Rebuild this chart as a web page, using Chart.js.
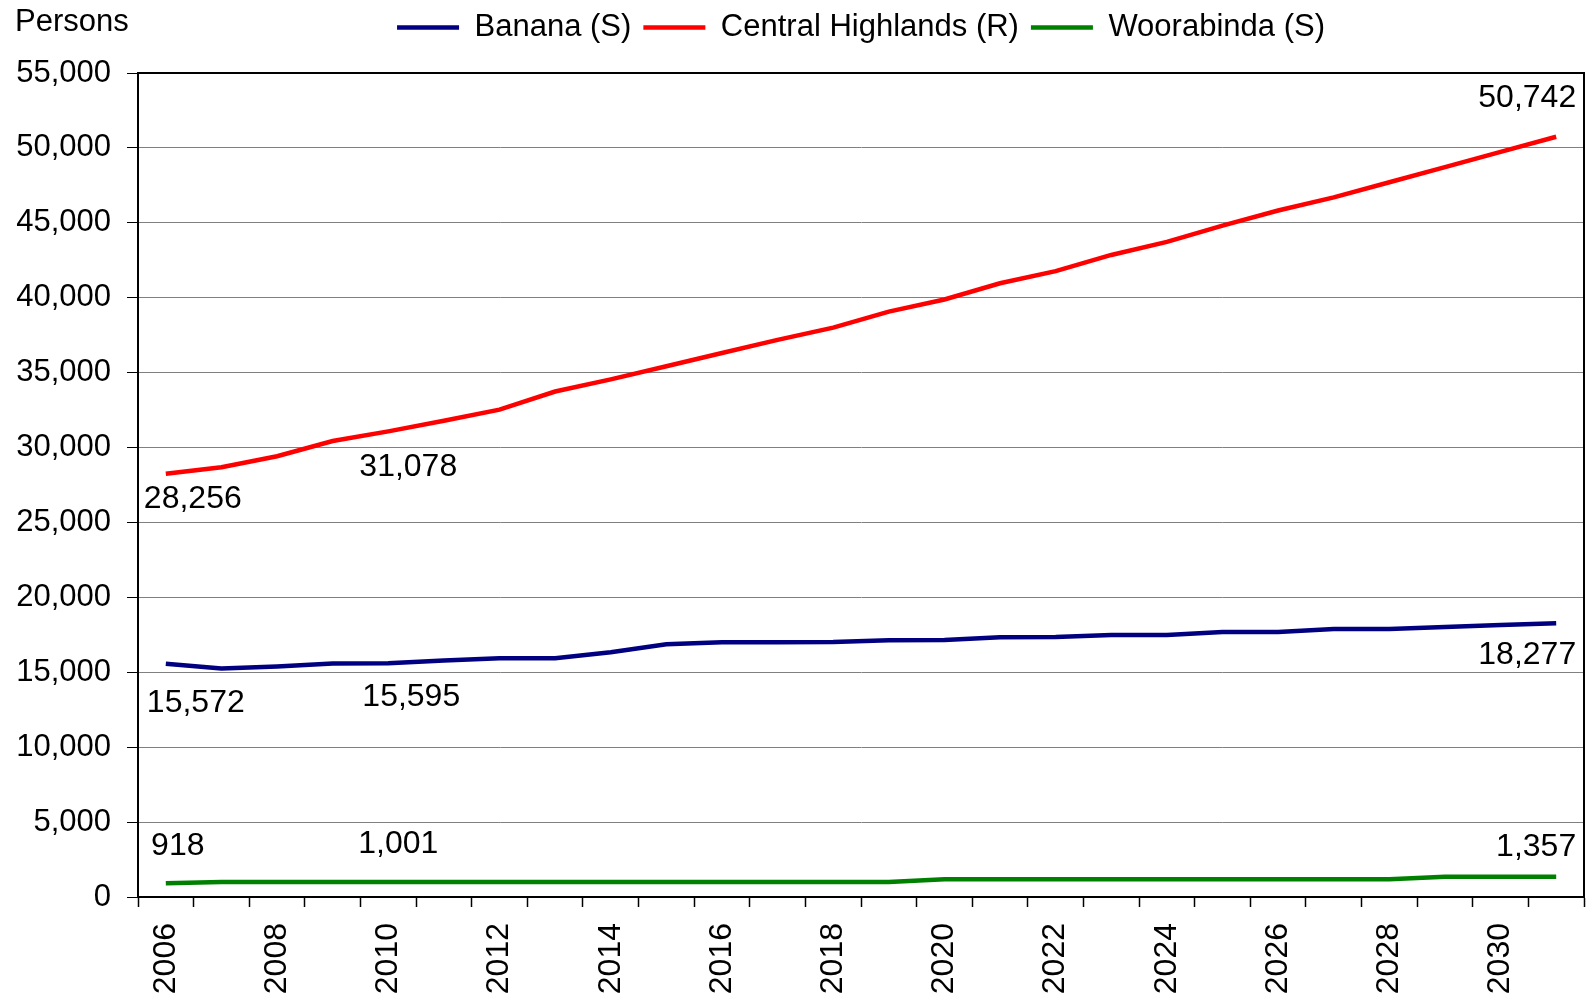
<!DOCTYPE html>
<html>
<head>
<meta charset="utf-8">
<script src="https://cdn.jsdelivr.net/npm/chart.js@4"></script>
<style>
  html, body { margin: 0; padding: 0; background: #fff; overflow: hidden; }
  #wrap { width: 1586px; height: 998px; }
</style>
</head>
<body>
<div id="wrap"><canvas id="popChart" width="1586" height="998"></canvas></div>
<script>
const years = ['2006', '2007', '2008', '2009', '2010', '2011', '2012', '2013', '2014', '2015', '2016', '2017', '2018',
               '2019', '2020', '2021', '2022', '2023', '2024', '2025', '2026', '2027', '2028', '2029', '2030', '2031'];

const banana = [15572, 15250, 15390, 15590, 15595, 15790, 15930, 15940, 16330, 16870, 17010, 17010, 17020,
                17140, 17150, 17345, 17350, 17480, 17490, 17680, 17690, 17885, 17890, 18020, 18155, 18277];

const centralHighlands = [28256, 28680, 29420, 30435, 31078, 31785, 32530, 33740, 34550, 35430, 36310, 37185, 38000,
                          39075, 39885, 40965, 41775, 42855, 43730, 44810, 45820, 46700, 47710, 48720, 49735, 50742];

const woorabinda = [918, 1001, 1001, 1001, 1001, 1001, 1001, 1001, 1001, 1001, 1001, 1001, 1001,
                    1001, 1180, 1180, 1180, 1180, 1180, 1180, 1180, 1180, 1180, 1357, 1357, 1357];

const seriesNames = ['Banana (S)', 'Central Highlands (R)', 'Woorabinda (S)'];
const seriesColors = ['#000080', '#ff0000', '#008000'];

// which points get a value label: [dataset, index]
const labelledPoints = [[0, 0], [0, 4], [0, 25], [1, 0], [1, 4], [1, 25], [2, 0], [2, 4], [2, 25]];

const FONT = '"Liberation Sans", Arial, sans-serif';
const fmt = v => v.toLocaleString('en-US');

// offsets for the value labels (style only)
const labelStyle = {
  '0-0': { dx: 30, dy: 39, align: 'center' },
  '0-4': { dx: 23, dy: 34, align: 'center' },
  '0-25': { dx: 20, dy: 32, align: 'right' },
  '1-0': { dx: 27, dy: 25, align: 'center' },
  '1-4': { dx: 20, dy: 36, align: 'center' },
  '1-25': { dx: 20, dy: -39, align: 'right' },
  '2-0': { dx: 12, dy: -37, align: 'center' },
  '2-4': { dx: 10, dy: -38, align: 'center' },
  '2-25': { dx: 20, dy: -29, align: 'right' }
};

const extras = {
  id: 'extras',
  afterDraw(chart) {
    const c = chart.ctx;
    const a = chart.chartArea;
    c.save();
    // frame round the plot
    c.strokeStyle = '#000';
    c.lineWidth = 2;
    c.strokeRect(a.left, a.top, a.right - a.left, a.bottom - a.top);
    // axis caption
    c.fillStyle = '#000';
    c.font = '31px ' + FONT;
    c.textAlign = 'left';
    c.textBaseline = 'middle';
    c.fillText('Persons', 15, 22);
    // value labels
    c.font = '32px ' + FONT;
    labelledPoints.forEach(([ds, i]) => {
      const pt = chart.getDatasetMeta(ds).data[i];
      const st = labelStyle[ds + '-' + i];
      c.textAlign = st.align;
      c.fillText(fmt(chart.data.datasets[ds].data[i]), pt.x + st.dx, pt.y + st.dy);
    });
    c.restore();
  }
};

const dataSets = [banana, centralHighlands, woorabinda].map((d, k) => ({
  label: seriesNames[k],
  data: d,
  borderColor: seriesColors[k],
  backgroundColor: seriesColors[k],
  borderWidth: 4.5,
  pointRadius: 0,
  tension: 0
}));

new Chart(document.getElementById('popChart'), {
  type: 'line',
  data: { labels: years, datasets: dataSets },
  options: {
    responsive: false,
    animation: false,
    layout: { padding: { left: 0, right: 2, top: 0, bottom: 0 } },
    plugins: {
      tooltip: { enabled: false },
      legend: {
        position: 'top',
        fullSize: false,
        labels: {
          usePointStyle: true,
          pointStyle: 'line',
          pointStyleWidth: 62,
          color: '#000',
          font: { family: FONT, size: 31 },
          padding: 12
        }
      },
      // empty spacer between legend and plot
      subtitle: {
        display: true,
        text: '',
        weight: 500,
        font: { size: 10 },
        padding: { top: 0, bottom: 8 }
      }
    },
    scales: {
      x: {
        offset: true,
        afterFit: s => { s.paddingRight = 0; s.paddingLeft = 0; s.height = 101; },
        grid: { offset: true, drawOnChartArea: false, tickLength: 10, tickColor: '#000', tickWidth: 1.5 },
        border: { color: '#000', width: 2 },
        ticks: {
          autoSkip: false,
          minRotation: 90,
          maxRotation: 90,
          padding: 16,
          color: '#000',
          font: { family: FONT, size: 32 },
          callback: (v, i) => (i % 2 === 0 ? years[i] : '')
        }
      },
      y: {
        min: 0,
        max: 55000,
        afterFit: s => { s.width = 138; },
        grid: { color: '#808080', lineWidth: 1, tickLength: 11, tickColor: '#000' },
        border: { color: '#000', width: 2 },
        ticks: {
          stepSize: 5000,
          padding: 16,
          color: '#000',
          font: { family: FONT, size: 31 },
          callback: v => fmt(v)
        }
      }
    }
  },
  plugins: [extras]
});
</script>
</body>
</html>
